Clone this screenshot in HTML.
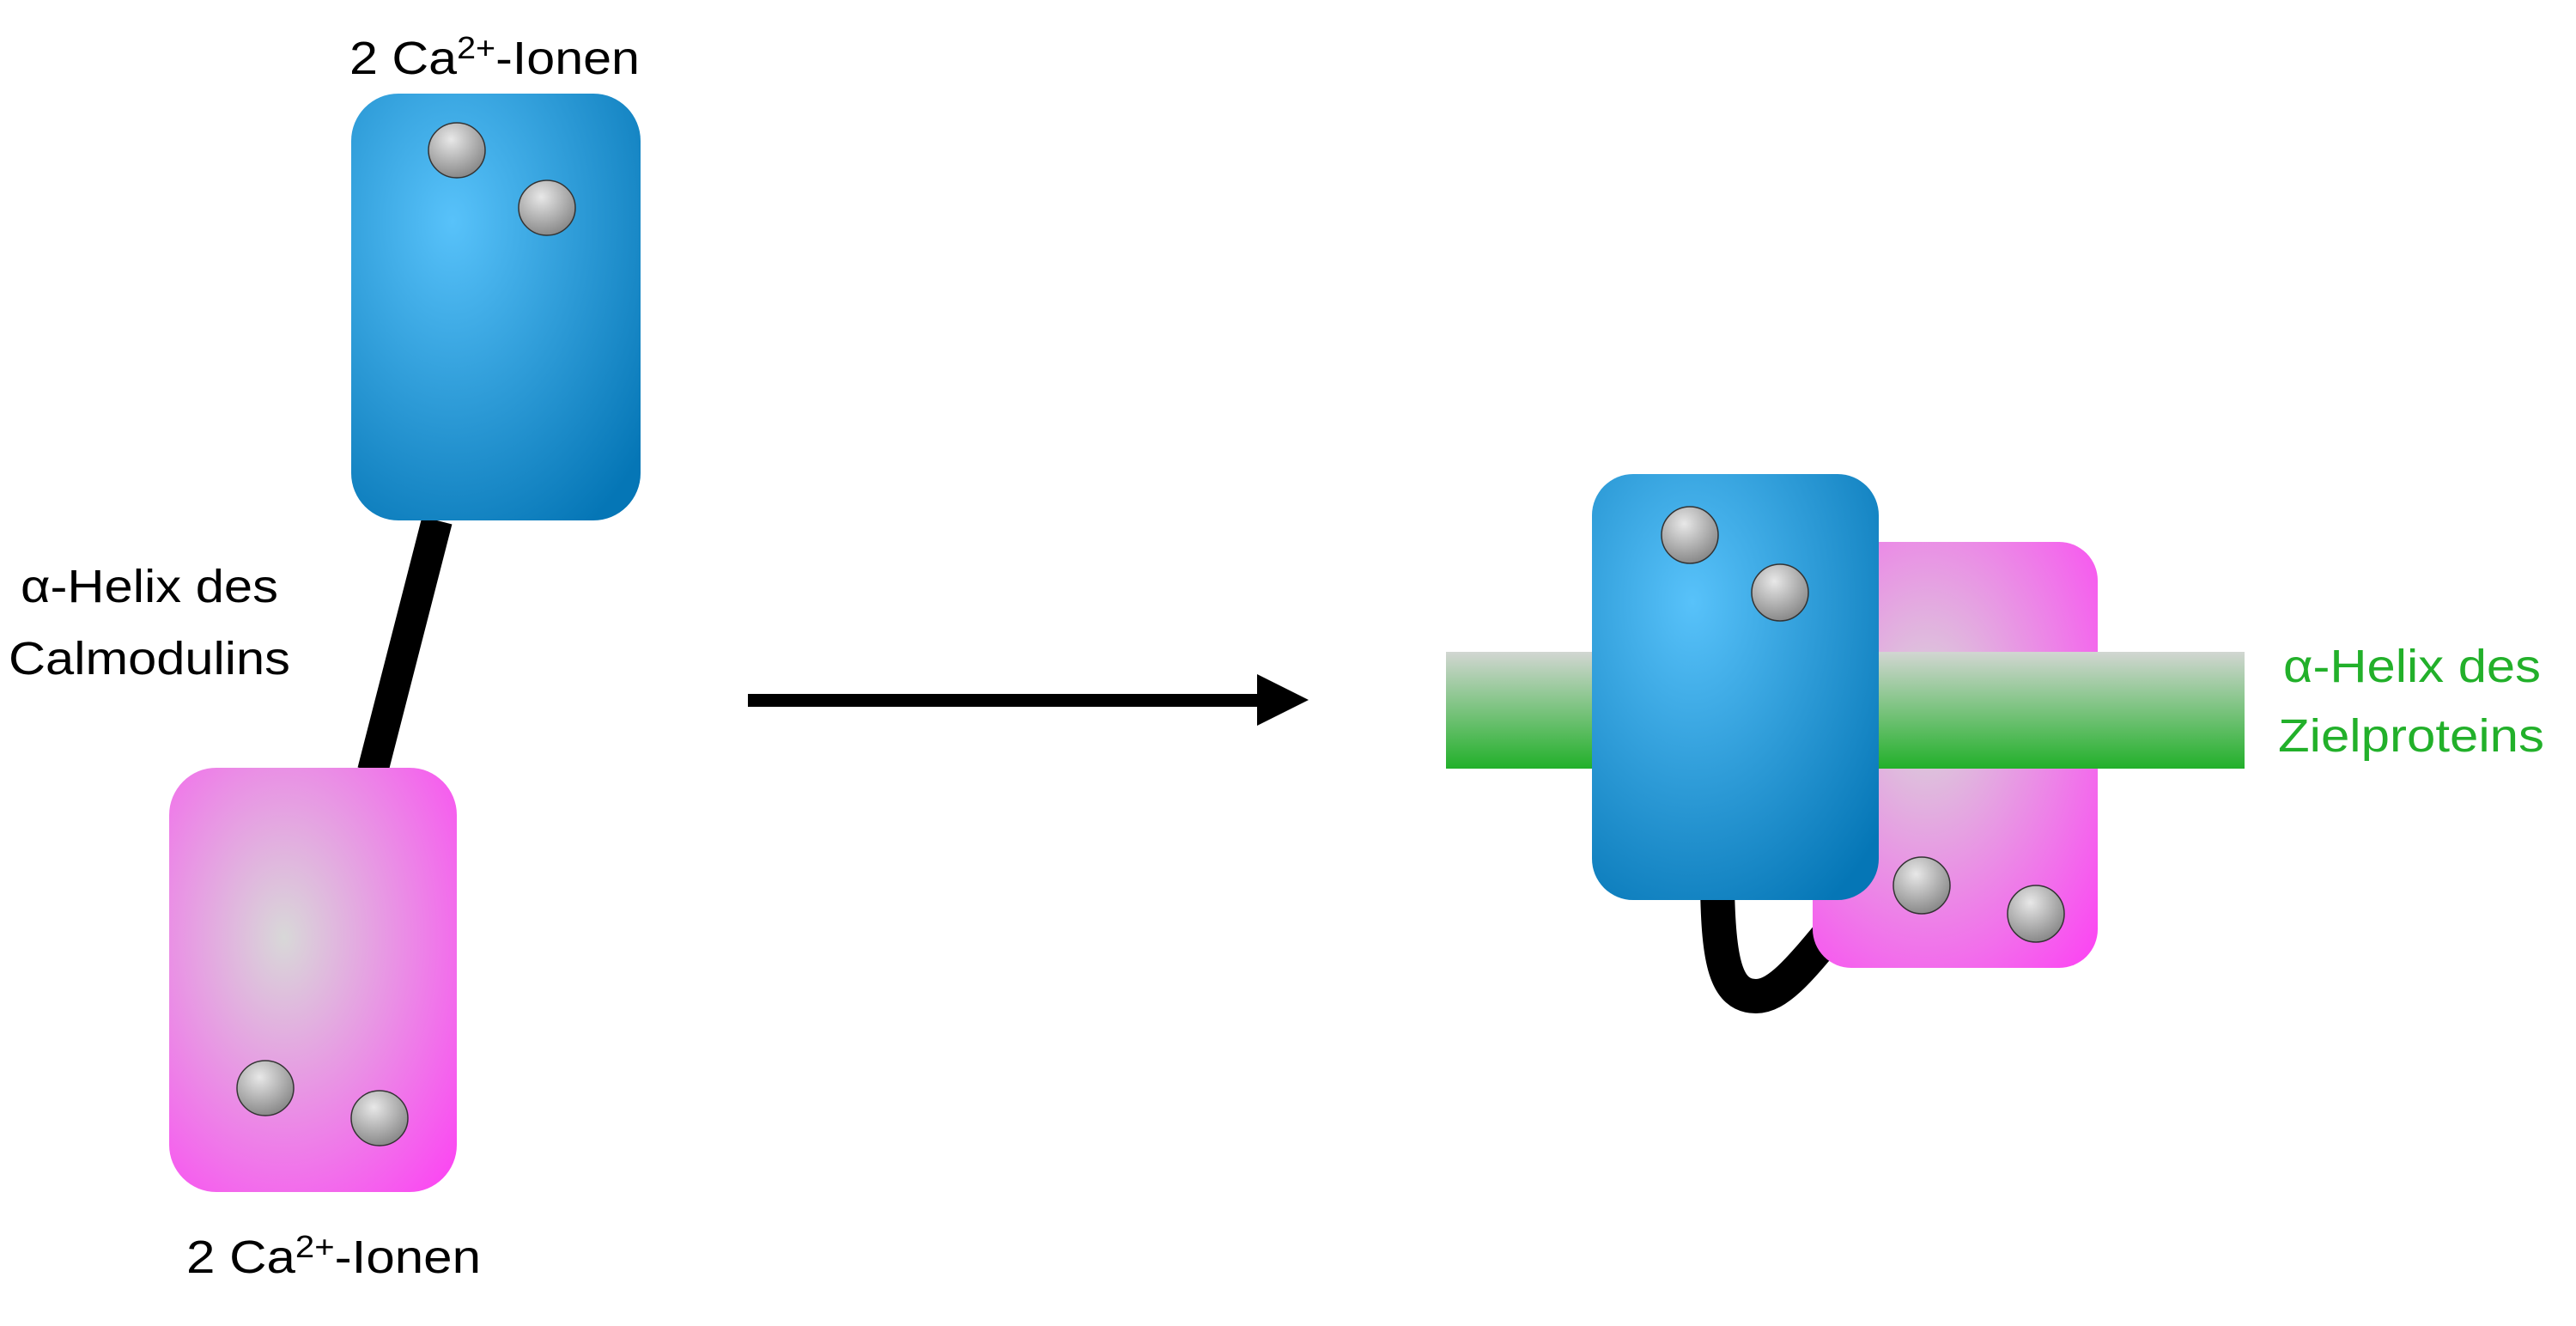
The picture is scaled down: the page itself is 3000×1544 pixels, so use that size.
<!DOCTYPE html>
<html><head><meta charset="utf-8"><style>html,body{margin:0;padding:0;background:#fff}svg{display:block}</style></head>
<body>
<svg width="3000" height="1544" viewBox="0 0 3000 1544" xmlns="http://www.w3.org/2000/svg">
<defs>
<radialGradient id="bl" cx="0.35" cy="0.3" r="0.85">
<stop offset="0" stop-color="#58c2fa"/><stop offset="1" stop-color="#0576b6"/></radialGradient>
<radialGradient id="pk" cx="0.4" cy="0.4" r="0.8">
<stop offset="0" stop-color="#d8d8d8"/><stop offset="1" stop-color="#fb48f2"/></radialGradient>
<radialGradient id="ion" cx="0.4" cy="0.3" r="0.7">
<stop offset="0" stop-color="#e8e8e8"/><stop offset="1" stop-color="#8a8a8a"/></radialGradient>
<linearGradient id="gr" x1="0" y1="0" x2="0" y2="1">
<stop offset="0" stop-color="#d2d6d2"/><stop offset="1" stop-color="#22b02a"/></linearGradient>
</defs>
<g font-family="Liberation Sans, sans-serif" font-size="54">
<text x="407" y="86" textLength="338" lengthAdjust="spacingAndGlyphs">2 Ca<tspan font-size="36" dy="-18">2+</tspan><tspan dy="18">-Ionen</tspan></text>
<text x="217" y="1482" textLength="343" lengthAdjust="spacingAndGlyphs">2 Ca<tspan font-size="36" dy="-18">2+</tspan><tspan dy="18">-Ionen</tspan></text>
<text x="24" y="701" textLength="300" lengthAdjust="spacingAndGlyphs">α-Helix des</text>
<text x="10" y="785" textLength="328" lengthAdjust="spacingAndGlyphs">Calmodulins</text>
<text x="2659" y="794" fill="#22b02a" textLength="300" lengthAdjust="spacingAndGlyphs">α-Helix des</text>
<text x="2653" y="875" fill="#22b02a" textLength="310" lengthAdjust="spacingAndGlyphs">Zielproteins</text>
</g>
<!-- left -->
<line x1="509" y1="606" x2="434" y2="898" stroke="#000" stroke-width="36"/>
<rect x="409" y="109" width="337" height="497" rx="55" fill="url(#bl)"/>
<rect x="197" y="894" width="335" height="494" rx="55" fill="url(#pk)"/>
<g fill="url(#ion)" stroke="#333" stroke-width="1.5">
<ellipse cx="532" cy="175" rx="33" ry="32"/><ellipse cx="637" cy="242" rx="33" ry="32"/>
<ellipse cx="309" cy="1267" rx="33" ry="32"/><ellipse cx="442" cy="1302" rx="33" ry="32"/>
</g>
<!-- arrow -->
<rect x="871" y="808" width="600" height="15" fill="#000"/>
<polygon points="1464,785 1524,815 1464,845" fill="#000"/>
<!-- right -->
<path d="M2000 1030 C2001 1120 2010 1160 2045 1160 C2070 1160 2095 1130 2130 1088" fill="none" stroke="#000" stroke-width="40"/>
<rect x="2111" y="631" width="332" height="496" rx="45" fill="url(#pk)"/>
<rect x="1684" y="759" width="930" height="136" fill="url(#gr)"/>
<rect x="1854" y="552" width="334" height="496" rx="48" fill="url(#bl)"/>
<g fill="url(#ion)" stroke="#333" stroke-width="1.5">
<ellipse cx="1968" cy="623" rx="33" ry="33"/><ellipse cx="2073" cy="690" rx="33" ry="33"/>
<ellipse cx="2238" cy="1031" rx="33" ry="33"/><ellipse cx="2371" cy="1064" rx="33" ry="33"/>
</g>
</svg>
</body></html>
